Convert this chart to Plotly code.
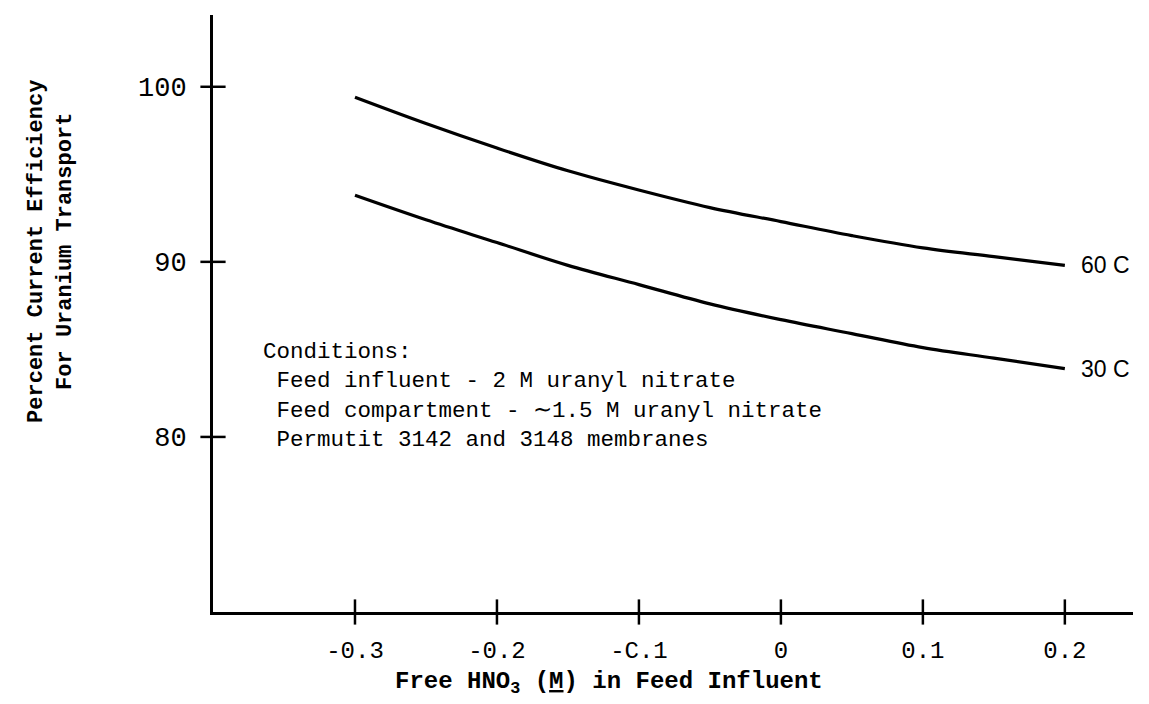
import plotly.graph_objects as go

# Data
hno3 = [-0.3, -0.25, -0.2, -0.15, -0.1, -0.05, 0.0, 0.05, 0.1, 0.15, 0.2]
eff_60C = [99.4, 97.9, 96.5, 95.2, 94.1, 93.1, 92.3, 91.5, 90.8, 90.3, 89.8]
eff_30C = [93.8, 92.4, 91.1, 89.8, 88.7, 87.6, 86.7, 85.9, 85.1, 84.5, 83.9]
x_ticks = [-0.3, -0.2, -0.1, 0.0, 0.1, 0.2]
x_tick_text = ["-0.3", "-0.2", "-C.1", "0", "0.1", "0.2"]
y_ticks = [80, 90, 100]
y_tick_text = ["80", "90", "100"]
series_labels = ["60 C", "30 C"]

X_RANGE = [-0.4, 0.248]
Y_RANGE = [70.0, 104.1]

MONO = "Liberation Mono"

fig = go.Figure()
for ys, lab in zip([eff_60C, eff_30C], series_labels):
    fig.add_trace(go.Scatter(x=hno3, y=ys, mode="lines", line=dict(color="black", width=3.2, shape="spline", smoothing=1.0),
                             showlegend=False, hoverinfo="skip"))
    fig.add_annotation(x=hno3[-1], y=ys[-1], text=lab, showarrow=False, xanchor="left", yanchor="middle",
                       xshift=14, font=dict(family="Liberation Sans", size=23, color="black"))

# crossing tick marks on both axes
fig.add_trace(go.Scatter(x=x_ticks, y=[Y_RANGE[0]] * len(x_ticks), mode="markers",
                         marker=dict(symbol="line-ns-open", size=18, color="black", line=dict(color="black", width=2.5)),
                         cliponaxis=False, showlegend=False, hoverinfo="skip"))
fig.add_trace(go.Scatter(x=[X_RANGE[0]] * len(y_ticks), y=y_ticks, mode="markers",
                         marker=dict(symbol="line-ew-open", size=18, color="black", line=dict(color="black", width=2.5)),
                         cliponaxis=False, showlegend=False, hoverinfo="skip"))

fig.update_xaxes(range=X_RANGE, tickvals=x_ticks, ticktext=x_tick_text, ticks="", showgrid=False, zeroline=False,
                 showline=True, linecolor="black", linewidth=3, ticklabelstandoff=14,
                 tickfont=dict(family=MONO, size=24, color="black"))
fig.update_yaxes(range=Y_RANGE, tickvals=y_ticks, ticktext=y_tick_text, ticks="", showgrid=False, zeroline=False,
                 showline=True, linecolor="black", linewidth=3, ticklabelstandoff=18,
                 tickfont=dict(family=MONO, size=27, color="black"))

# axis titles
fig.add_annotation(x=-0.121, y=0, xref="x", yref="paper", yshift=-54, yanchor="top", showarrow=False,
                   text="<b>Free HNO<sub>3</sub> (<u>M</u>) in Feed Influent</b>",
                   font=dict(family=MONO, size=24, color="black"))
fig.add_annotation(x=-0.207, y=90.6, xref="paper", yref="y", showarrow=False, textangle=-90,
                   text="<b>Percent Current Efficiency<br>For Uranium Transport</b>",
                   font=dict(family=MONO, size=22, color="black"))

# conditions block
fig.add_annotation(x=-0.366, y=85.7, xref="x", yref="y", showarrow=False, xanchor="left", yanchor="top",
                   align="left",
                   text="Conditions:<br> Feed influent - 2 M uranyl nitrate<br> Feed compartment - ∼1.5 M uranyl nitrate<br> Permutit 3142 and 3148 membranes",
                   font=dict(family=MONO, size=22.5, color="black"))

fig.update_layout(width=1149, height=704, margin=dict(l=213, r=16, t=15, b=92),
                  paper_bgcolor="white", plot_bgcolor="white")
fig.write_html("out.html")
